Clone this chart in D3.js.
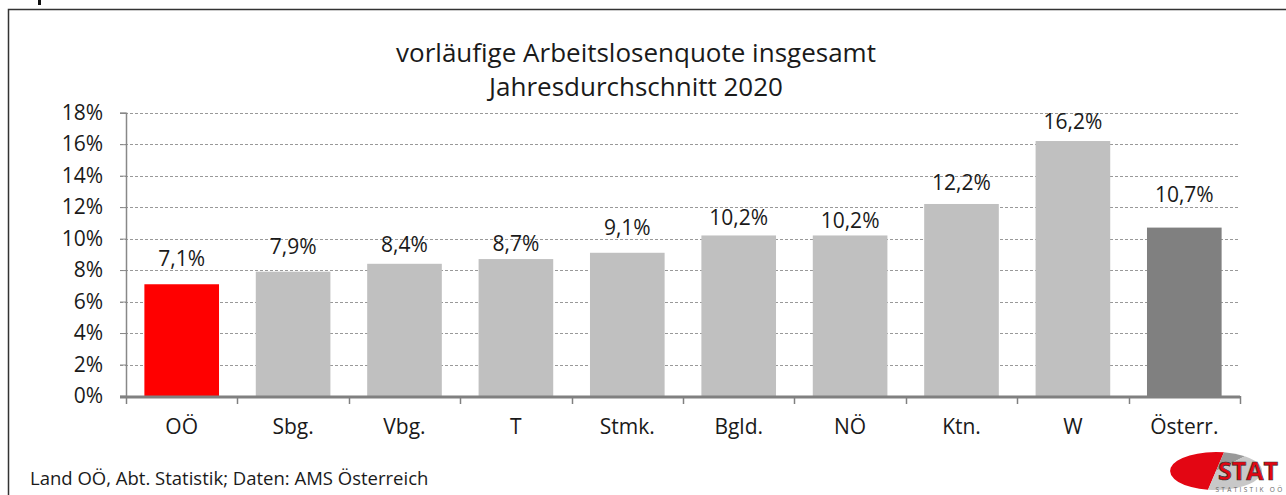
<!DOCTYPE html>
<html>
<head>
<meta charset="utf-8">
<script src="https://cdn.jsdelivr.net/npm/d3@7"></script>
<style>
  body { margin: 0; background: #fff; }
  svg text { font-family: "Open Sans", "DejaVu Sans", sans-serif; fill: #1a1a1a; }
</style>
</head>
<body>
<div id="chart"></div>
<script>
// data
var categories = ["OÖ", "Sbg.", "Vbg.", "T", "Stmk.", "Bgld.", "NÖ", "Ktn.", "W", "Österr."];
var values = [7.1, 7.9, 8.4, 8.7, 9.1, 10.2, 10.2, 12.2, 16.2, 10.7];
var barColors = ["#FF0000", "#C0C0C0", "#C0C0C0", "#C0C0C0", "#C0C0C0", "#C0C0C0", "#C0C0C0", "#C0C0C0", "#C0C0C0", "#808080"];
var yTicks = [0, 2, 4, 6, 8, 10, 12, 14, 16, 18];
var titleLines = ["vorläufige Arbeitslosenquote insgesamt", "Jahresdurchschnitt 2020"];
var source = "Land OÖ, Abt. Statistik; Daten: AMS Österreich";

// labels were nudged by hand in the original, gap (px) above the bar
var labelLift = [18, 18, 12, 8, 18, 10, 7, 14, 12, 26];

var width = 1286, height = 495;
// plot area (don't call it "top", clashes with window.top)
var plotLeft = 126, plotRight = 1240, plotTop = 112.7, plotBottom = 396;

var svg = d3.select("#chart").append("svg")
  .attr("width", width)
  .attr("height", height);

// frame
svg.append("path")
  .attr("d", "M8.5," + height + "V9.5H" + width)
  .attr("fill", "none")
  .attr("stroke", "#333")
  .attr("stroke-width", 1.5);
svg.append("rect").attr("x", 38).attr("y", 0).attr("width", 3).attr("height", 5).attr("fill", "#111");

var x = d3.scaleBand().domain(categories).range([plotLeft, plotRight]).paddingInner(0.33).paddingOuter(0.165);
var xb = d3.scaleBand().domain(categories).range([plotLeft, plotRight]);
var y = d3.scaleLinear().domain([0, 18]).range([plotBottom, plotTop]);

// gridlines
svg.append("g")
  .selectAll("line")
  .data(yTicks.filter(function(d) { return d > 0; }))
  .enter().append("line")
  .attr("x1", plotLeft - 6).attr("x2", plotRight)
  .attr("y1", function(d) { return Math.round(y(d)) + 0.5; })
  .attr("y2", function(d) { return Math.round(y(d)) + 0.5; })
  .attr("stroke", "#999")
  .attr("stroke-dasharray", "3,2");

// y axis
var yAxis = svg.append("g")
  .attr("transform", "translate(" + plotLeft + ",0)")
  .call(d3.axisLeft(y).tickValues(yTicks).tickSize(6).tickPadding(17).tickFormat(function(d) { return d + "%"; }));
yAxis.select(".domain").attr("stroke", "#888").attr("stroke-width", 1.5);
yAxis.selectAll(".tick line").attr("stroke", "#888");
yAxis.selectAll("text").attr("font-size", 21).attr("font-family", null).attr("fill", "#1a1a1a");

// bars
svg.append("g")
  .selectAll("rect")
  .data(values)
  .enter().append("rect")
  .attr("x", function(d, i) { return x(categories[i]); })
  .attr("width", x.bandwidth())
  .attr("y", function(d) { return y(d); })
  .attr("height", function(d) { return plotBottom - y(d); })
  .attr("fill", function(d, i) { return barColors[i]; });

// value labels
svg.append("g")
  .selectAll("text")
  .data(values)
  .enter().append("text")
  .attr("x", function(d, i) { return x(categories[i]) + x.bandwidth() / 2; })
  .attr("y", function(d, i) { return y(d) - labelLift[i]; })
  .attr("text-anchor", "middle")
  .attr("font-size", 21)
  .text(function(d) { return d.toFixed(1).replace(".", ",") + "%"; });

// x axis
svg.append("line")
  .attr("x1", plotLeft - 6).attr("x2", plotRight)
  .attr("y1", plotBottom + 1).attr("y2", plotBottom + 1)
  .attr("stroke", "#808080").attr("stroke-width", 3);
svg.append("g")
  .selectAll("line")
  .data(d3.range(categories.length + 1))
  .enter().append("line")
  .attr("x1", function(i) { return Math.round(plotLeft + i * xb.bandwidth()) + 0.5; })
  .attr("x2", function(i) { return Math.round(plotLeft + i * xb.bandwidth()) + 0.5; })
  .attr("y1", plotBottom).attr("y2", plotBottom + 8)
  .attr("stroke", "#808080").attr("stroke-width", 1.5);
svg.append("g")
  .selectAll("text")
  .data(categories)
  .enter().append("text")
  .attr("x", function(d) { return xb(d) + xb.bandwidth() / 2; })
  .attr("y", 434)
  .attr("text-anchor", "middle")
  .attr("font-size", 21)
  .text(function(d) { return d; });

// title
svg.append("g")
  .selectAll("text")
  .data(titleLines)
  .enter().append("text")
  .attr("x", 636)
  .attr("y", function(d, i) { return 62 + i * 34; })
  .attr("text-anchor", "middle")
  .attr("font-size", 26)
  .text(function(d) { return d; });

// source
svg.append("text")
  .attr("x", 30).attr("y", 485)
  .attr("font-size", 18.5)
  .text(source);

// logo
var logo = svg.append("g").attr("transform", "translate(1216,471)");
var pie = d3.pie().sort(null).value(function(d) { return d; });
var arcs = pie([50, 8, 42]);
var logoArc = d3.arc().innerRadius(0).outerRadius(1);
var logoColors = ["#e30613", "#999", "#c8c8c8"];
logo.selectAll("path")
  .data(arcs)
  .enter().append("path")
  .attr("d", logoArc)
  .attr("transform", "scale(46,19) rotate(-170)")
  .attr("fill", function(d, i) { return logoColors[i]; });
logo.append("text")
  .attr("x", 32).attr("y", 9)
  .attr("text-anchor", "middle")
  .attr("font-size", 25).attr("font-weight", "bold")
  .attr("font-family", "Liberation Sans, Arial, sans-serif")
  .style("fill", "#e30613")
  .attr("stroke", "#333").attr("stroke-width", 0.7)
  .text("STAT");
logo.append("text")
  .attr("x", 34).attr("y", 21)
  .attr("text-anchor", "middle")
  .attr("font-size", 6.5).attr("letter-spacing", 2.3)
  .style("fill", "#666")
  .text("STATISTIK OÖ");
</script>
</body>
</html>
